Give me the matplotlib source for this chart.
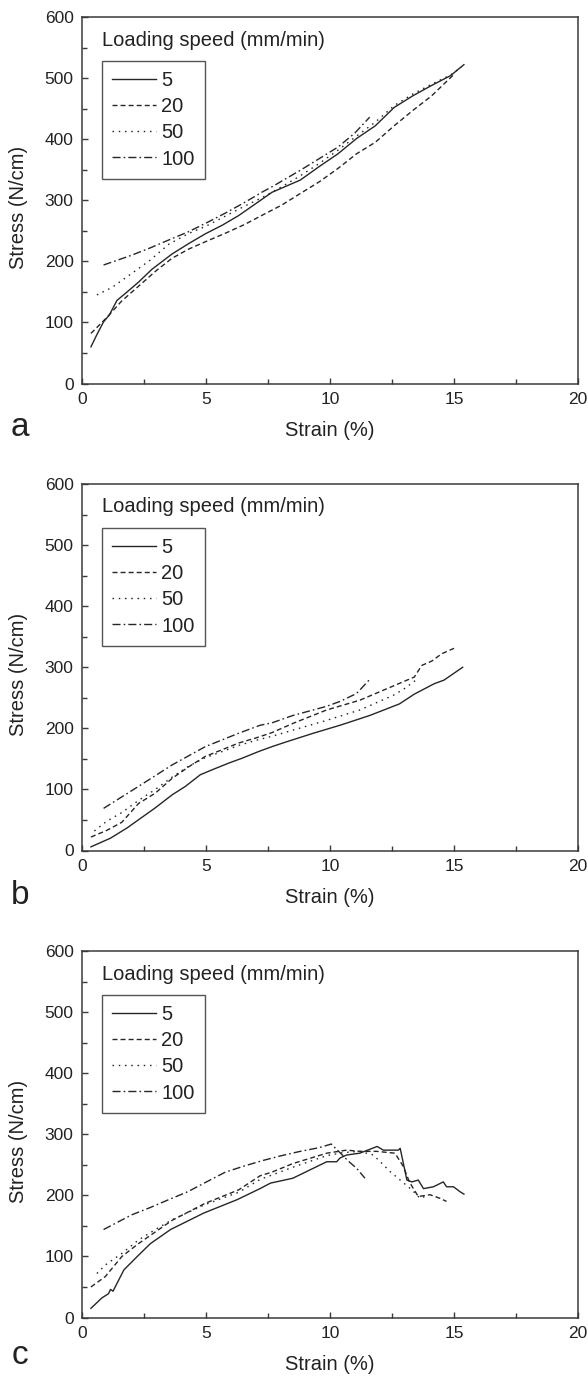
import matplotlib
matplotlib.use("Agg")
import matplotlib.pyplot as plt

plt.rcParams['font.family'] = ['Liberation Sans', 'DejaVu Sans']
plt.rcParams['lines.scale_dashes'] = False

# ---------------- data ----------------
speeds = ["5", "20", "50", "100"]
panel_letters = ["a", "b", "c"]
x_ticks = [0, 5, 10, 15, 20]
y_ticks = [0, 100, 200, 300, 400, 500, 600]

# panel a
a_strain_5 = [0.36, 0.6, 0.87, 1.1, 1.28, 1.41, 1.88, 2.28, 2.82, 3.63, 4.3, 4.97, 5.65, 6.32, 6.99, 7.66,
              8.8, 9.56, 10.32, 11.07, 11.83, 12.59, 13.34, 14.1, 14.86, 15.4]
a_stress_5 = [60, 80, 101, 112, 126, 136, 152, 166, 187, 212, 229, 245, 259, 275, 294, 313,
              333, 355, 376, 401, 422, 452, 471, 488, 504, 522]
a_strain_20 = [0.36, 1.0, 1.6, 2.3, 3.0, 3.63, 4.3, 4.97, 5.78, 6.54, 7.29, 8.05, 8.8, 9.56, 10.32,
               11.07, 11.83, 12.59, 13.34, 14.1, 14.97]
a_stress_20 = [82, 108, 135, 160, 185, 205, 220, 232, 246, 260, 276, 292, 311, 330, 352,
               376, 395, 422, 447, 471, 505]
a_strain_50 = [0.6, 1.2, 2.0, 2.75, 3.5, 4.27, 5.02, 5.78, 6.54, 7.29, 8.05, 8.8, 9.56, 10.32, 11.07,
               11.83, 12.59, 13.34, 14.1, 14.86, 15.3]
a_stress_50 = [145, 157, 180, 202, 228, 245, 258, 274, 290, 305, 322, 340, 360, 382, 405,
               428, 455, 474, 490, 505, 518]
a_strain_100 = [0.87, 2.0, 2.75, 3.5, 4.27, 5.02, 5.78, 6.54, 7.29, 7.66, 8.8, 9.56, 10.32, 11.0, 11.6]
a_stress_100 = [194, 210, 222, 235, 248, 263, 279, 296, 314, 322, 349, 368, 387, 410, 436]

# panel b
b_strain_5 = [0.36, 1.14, 1.82, 2.96, 3.63, 4.17, 4.77, 5.24, 5.91, 6.45, 7.12, 7.66, 8.25, 9.33, 10.4,
              11.6, 12.8, 13.4, 14.2, 14.6, 15.35]
b_stress_5 = [6, 20, 37, 70, 91, 105, 124, 132, 143, 151, 162, 170, 178, 192, 205,
              221, 240, 256, 273, 279, 300]
b_strain_20 = [0.36, 1.0, 1.6, 2.28, 2.96, 3.63, 4.3, 4.97, 5.65, 6.32, 6.99, 7.66, 8.5, 9.86, 11.2,
               12.3, 13.4, 13.7, 14.1, 14.5, 15.0]
b_stress_20 = [22, 33, 46, 77, 94, 118, 137, 154, 165, 176, 184, 193, 208, 230, 246,
               265, 284, 303, 310, 322, 331]
b_strain_50 = [0.5, 1.0, 1.6, 2.28, 2.96, 3.63, 4.3, 4.97, 5.65, 6.32, 6.99, 7.66, 8.5, 9.86, 11.2,
               12.55, 13.0, 13.5]
b_stress_50 = [32, 48, 62, 82, 100, 120, 138, 152, 162, 172, 180, 187, 197, 213, 230,
               254, 265, 280]
b_strain_100 = [0.87, 2.28, 3.63, 4.97, 6.32, 7.18, 7.66, 8.5, 9.86, 10.4, 11.07, 11.6]
b_stress_100 = [69, 105, 140, 170, 192, 205, 209, 221, 236, 244, 257, 280]

# panel c
c_strain_5 = [0.36, 0.8, 1.07, 1.15, 1.25, 1.69, 2.23, 2.76, 3.57, 4.91, 6.26, 7.18, 7.6, 8.5, 9.87,
              10.27, 10.4, 10.67, 11.2, 11.9, 12.15, 12.76, 12.83, 13.1, 13.3, 13.56, 13.77, 14.17,
              14.57, 14.7, 14.98, 15.24, 15.4]
c_stress_5 = [15, 32, 39, 46, 43, 78, 100, 121, 144, 171, 193, 211, 220, 228, 255,
              255, 261, 266, 269, 280, 274, 274, 277, 225, 222, 225, 211, 214,
              222, 214, 214, 206, 202]
c_strain_20 = [0.36, 0.94, 1.61, 2.28, 3.63, 4.97, 6.32, 7.18, 7.66, 8.5, 9.87, 10.67, 11.2, 11.88,
               12.62, 12.96, 13.2, 13.56, 14.03, 14.44, 14.7]
c_stress_20 = [50, 67, 100, 121, 159, 187, 209, 232, 238, 252, 269, 274, 272, 272,
               269, 247, 222, 198, 201, 195, 190]
c_strain_50 = [0.6, 0.94, 1.61, 2.28, 3.0, 3.63, 4.97, 6.32, 7.18, 8.5, 9.87, 10.54, 11.2, 11.75,
               12.1, 12.42, 12.83, 13.3, 13.63, 13.95]
c_stress_50 = [72, 86, 105, 127, 145, 160, 185, 205, 226, 246, 265, 270, 272, 266,
               252, 239, 225, 209, 195, 200]
c_strain_100 = [0.87, 2.0, 2.75, 3.5, 4.27, 5.02, 5.78, 6.54, 7.29, 8.05, 8.8, 9.56, 10.05, 10.4,
                10.74, 11.08, 11.41]
c_stress_100 = [144, 168, 180, 193, 206, 222, 238, 248, 257, 265, 272, 278, 284, 270,
                256, 244, 228]

panels = [
    [(a_strain_5, a_stress_5), (a_strain_20, a_stress_20), (a_strain_50, a_stress_50), (a_strain_100, a_stress_100)],
    [(b_strain_5, b_stress_5), (b_strain_20, b_stress_20), (b_strain_50, b_stress_50), (b_strain_100, b_stress_100)],
    [(c_strain_5, c_stress_5), (c_strain_20, c_stress_20), (c_strain_50, c_stress_50), (c_strain_100, c_stress_100)],
]

# ---------------- style ----------------
line_styles = ['-', (0, (3.6, 2.2)), (0, (1.1, 3.4)), (0, (5.8, 2.2, 1.2, 2.2))]
line_color = '#262626'
spine_color = '#3a3a3a'

W, H = 588, 1376
fig = plt.figure(figsize=(W / 100, H / 100), dpi=100)

ax_left = 82 / W
ax_width = 496 / W
ax_height = 366.5 / H
ax_tops = [17, 484, 951]
letter_y = [428, 895, 1356]

for i, series in enumerate(panels):
    bottom = 1 - (ax_tops[i] + 366.5) / H
    ax = fig.add_axes([ax_left, bottom, ax_width, ax_height])
    handles = []
    for (xs, ys), ls in zip(series, line_styles):
        ln, = ax.plot(xs, ys, color=line_color, lw=1.0, linestyle=ls)
        handles.append(ln)
    ax.set_xlim(0, 20)
    ax.set_ylim(0, 600)
    ax.set_xticks(x_ticks)
    ax.set_yticks(y_ticks)
    ax.set_xticks([2.5, 7.5, 12.5, 17.5], minor=True)
    ax.set_yticks([50, 150, 250, 350, 450, 550], minor=True)
    ax.tick_params(which='both', direction='in', top=False, right=False,
                   colors=spine_color, labelcolor='#222222')
    ax.tick_params(which='major', length=4.5, width=1.0, labelsize=12.5, pad=6)
    ax.tick_params(which='minor', length=3.5, width=1.0)
    for sp in ax.spines.values():
        sp.set_color(spine_color)
        sp.set_linewidth(1.1)

    ax.set_xlabel('Strain (%)', fontsize=14.5, color='#222222')
    ax.xaxis.set_label_coords(0.5, (383.5 - 421) / 366.5)
    ax.set_ylabel('Stress (N/cm)', fontsize=14.5, color='#222222')
    ax.yaxis.label.set_va('center')
    ax.yaxis.set_label_coords((19 - 82) / 496, 0.48)

    ax.text((101.7 - 82) / 496, (383.5 - 40) / 366.5, 'Loading speed (mm/min)',
            transform=ax.transAxes, fontsize=14.5, ha='left', va='center', color='#222222')
    leg = ax.legend(handles, speeds, loc='upper left',
                    bbox_to_anchor=((101.7 - 82) / 496, (383.5 - 60.7) / 366.5),
                    borderaxespad=0, frameon=True, fancybox=False, framealpha=1,
                    edgecolor='#555555', fontsize=14.5, handlelength=2.2,
                    handletextpad=0.25, labelspacing=0.36, borderpad=0.5)
    leg.get_frame().set_linewidth(1.0)
    for t in leg.get_texts():
        t.set_color('#222222')

    fig.text(20 / W, 1 - letter_y[i] / H, panel_letters[i], fontsize=24,
             ha='center', va='center', color='#222222')

fig.savefig('out.png', dpi=100, facecolor='white')
